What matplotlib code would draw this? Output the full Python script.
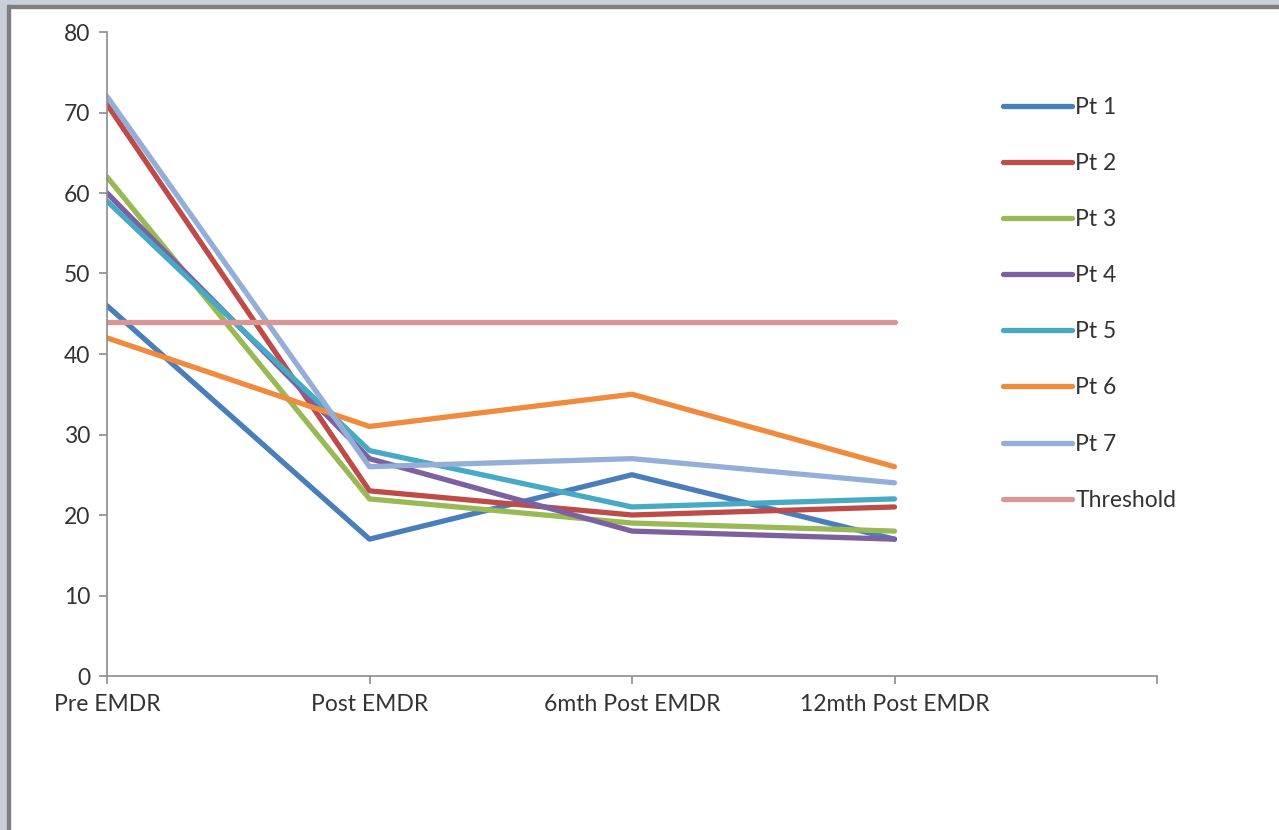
import matplotlib.pyplot as plt
from matplotlib.patches import Rectangle

plt.rcParams['font.family'] = ['Lato', 'DejaVu Sans']

stages = ['Pre EMDR', 'Post EMDR', '6mth Post EMDR', '12mth Post EMDR']
pt1 = [46, 17, 25, 17]
pt2 = [71, 23, 20, 21]
pt3 = [62, 22, 19, 18]
pt4 = [60, 27, 18, 17]
pt5 = [59, 28, 21, 22]
pt6 = [42, 31, 35, 26]
pt7 = [72, 26, 27, 24]
threshold = [44, 44, 44, 44]

series = [
    ('Pt 1', pt1, '#4A7EBB'),
    ('Pt 2', pt2, '#BE4B48'),
    ('Pt 3', pt3, '#98B954'),
    ('Pt 4', pt4, '#7D60A0'),
    ('Pt 5', pt5, '#46AAC5'),
    ('Pt 6', pt6, '#F08A3C'),
    ('Pt 7', pt7, '#94AED8'),
    ('Threshold', threshold, '#D99694'),
]

W, H = 1279, 830
fig = plt.figure(figsize=(W / 100, H / 100), dpi=100)
ax = fig.add_axes([107 / W, (H - 676) / H, (1157 - 107) / W, (676 - 32) / H])

x = list(range(len(stages)))
for name, vals, col in series:
    ax.plot(x, vals, color=col, lw=3.8, label=name, solid_capstyle='round')

ax.set_xlim(0, 4)
ax.set_ylim(0, 80)
ax.set_yticks(range(0, 81, 10))
ax.set_xticks(range(0, 5))
ax.set_xticklabels(stages + [''])

for s in ['top', 'right']:
    ax.spines[s].set_visible(False)
for s in ['left', 'bottom']:
    ax.spines[s].set_color('#8c8c8c')
    ax.spines[s].set_linewidth(1.2)
ax.tick_params(axis='both', colors='#8c8c8c', length=6, width=1.2,
               labelcolor='#333333', labelsize=16.5)
ax.tick_params(axis='y', pad=6)
ax.tick_params(axis='x', pad=7)

leg = ax.legend(loc='upper left', bbox_to_anchor=(994 / W, 1 - 88 / H),
                bbox_transform=fig.transFigure, frameon=False, fontsize=16.5,
                handlelength=3.0, handletextpad=0.15, labelspacing=1.53,
                borderaxespad=0)
for t in leg.get_texts():
    t.set_color('#333333')

# window frame along the top and left edges
fig.patches.append(Rectangle((0, 1 - 5 / H), 1, 5 / H, transform=fig.transFigure,
                             color='#C8D1D9', zorder=10))
fig.patches.append(Rectangle((0, 1 - 8 / H), 1, 3 / H, transform=fig.transFigure,
                             color='#7f7f7f', zorder=10))
fig.patches.append(Rectangle((0, 0), 7 / W, 1, transform=fig.transFigure,
                             color='#C8D1D9', zorder=10))
fig.patches.append(Rectangle((7 / W, 0), 2.5 / W, 1 - 5 / H, transform=fig.transFigure,
                             color='#7f7f7f', zorder=10))

fig.savefig('out.png', dpi=100)
